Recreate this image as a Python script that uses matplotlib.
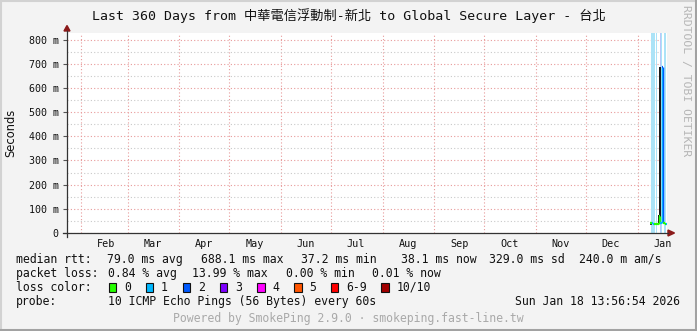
import matplotlib
matplotlib.use("Agg")
import matplotlib.pyplot as plt
import matplotlib.dates as mdates
from matplotlib.ticker import MultipleLocator, FuncFormatter
from matplotlib.patches import Rectangle, Polygon
from matplotlib.lines import Line2D
import datetime as dt

# ---------------- data ----------------
title = "Last 360 Days from 中華電信浮動制-新北 to Global Secure Layer - 台北"
end_time = dt.datetime(2026, 1, 18, 13, 56, 54)
span_days = 360
y_max_ms = 827

# full-height light smoke bands (start, duration in days)
band_start = ["2026-01-09 00:00", "2026-01-12 00:00", "2026-01-14 09:36",
              "2026-01-15 00:00", "2026-01-16 19:12"]
band_days = [2.4, 0.6, 0.6, 0.6, 1.2]
band_colors = ["#abe3f7", "#abe3f7", "#b9c6f9", "#abe3f7", "#abe3f7"]

# dense smoke blocks (start, duration days, low ms, high ms)
smoke_start = ["2026-01-08 04:48", "2026-01-13 04:48", "2026-01-13 19:12"]
smoke_days = [1.2, 0.6, 1.2]
smoke_low = [35, 38, 38]
smoke_high = [45, 75, 688]
smoke_colors = ["#3a3a3a", "#1a1a1a", "#1a1a1a"]

# median rtt per consolidated step (day of Jan 2026, ms, loss count)
med_day = [7.2, 7.8, 8.4, 9.0, 9.6, 10.2, 10.8, 11.4, 12.0, 12.6,
           13.2, 13.8, 14.4, 15.0, 15.6, 16.2, 16.8, 17.4]
med_ms = [40, 40, 42, 38, 38, 38, 38, 39, 38, 70,
          40, 40, 688, 40, 40, 38, 37, 38]
med_loss = [0, 0, 1, 1, 0, 0, 0, 0, 0, 0,
            1, 1, 2, 0, 0, 0, 1, 1]
step_days = 0.6

loss_labels = ["0", "1", "2", "3", "4", "5", "6-9", "10/10"]
loss_colors = ["#26ff00", "#00b8ff", "#0059ff", "#7e00ff", "#ff00ff",
               "#ff5500", "#ff0000", "#a10000"]

rtt_stats = ["79.0 ms avg", "688.1 ms max", "37.2 ms min", "38.1 ms now",
             "329.0 ms sd", "240.0 m am/s"]
loss_stats = ["0.84 % avg", "13.99 % max", "0.00 % min", "0.01 % now"]
probe_text = "10 ICMP Echo Pings (56 Bytes) every 60s"
stamp_text = "Sun Jan 18 13:56:54 2026"
footer_text = "Powered by SmokePing 2.9.0 · smokeping.fast-line.tw"
side_text = "RRDTOOL / TOBI OETIKER"

# ---------------- figure ----------------
W, H = 697, 331
fig = plt.figure(figsize=(W / 100, H / 100), dpi=100)
fig.patch.set_facecolor("#f3f3f3")

def fx(x):
    return x / W

def fy(y):
    return 1 - y / H

MONO = ["DejaVu Sans Mono", "Noto Sans CJK TC"]

# 3D-ish border
fig.add_artist(Line2D([fx(0.5), fx(0.5)], [0, 1], color="#d2d2d2", lw=1.5, transform=fig.transFigure))
fig.add_artist(Line2D([0, 1], [fy(0.5), fy(0.5)], color="#d2d2d2", lw=1.5, transform=fig.transFigure))
fig.add_artist(Line2D([fx(695.5), fx(695.5)], [0, 1], color="#a2a2a2", lw=2.2, transform=fig.transFigure))
fig.add_artist(Line2D([0, 1], [fy(329.5), fy(329.5)], color="#a2a2a2", lw=2.2, transform=fig.transFigure))

left, right, top, bottom = 67, 667, 33, 233
ax = fig.add_axes([fx(left), fy(bottom), (right - left) / W, (bottom - top) / H])
ax.set_facecolor("white")
start_time = end_time - dt.timedelta(days=span_days)
ax.set_xlim(mdates.date2num(start_time), mdates.date2num(end_time))
ax.set_ylim(0, y_max_ms)

for s in ax.spines.values():
    s.set_visible(False)

# grids
ax.yaxis.set_major_locator(MultipleLocator(100))
ax.yaxis.set_minor_locator(MultipleLocator(50))
ax.xaxis.set_major_locator(mdates.MonthLocator())
ax.xaxis.set_minor_locator(mdates.MonthLocator(bymonthday=16))
ax.xaxis.set_major_formatter(FuncFormatter(lambda v, p: ""))
ax.xaxis.set_minor_formatter(mdates.DateFormatter("%b"))
ax.yaxis.set_major_formatter(FuncFormatter(lambda v, p: "0" if v == 0 else f"{int(v)} m"))

ax.grid(which="minor", axis="y", color="#c9c9c9", lw=0.8, ls=(0, (1, 2)))
ax.grid(which="major", axis="both", color="#e89a9a", lw=0.8, ls=(0, (1, 2)))
ax.set_axisbelow(True)

ax.tick_params(axis="x", which="both", length=0, pad=4, labelsize=7.3, labelcolor="#111")
ax.tick_params(axis="y", which="major", length=3, width=0.8, color="#555", pad=3,
               labelsize=7.2, labelcolor="#111")
ax.tick_params(axis="y", which="minor", length=0)
for lab in ax.get_xticklabels(minor=True) + ax.get_yticklabels():
    lab.set_family("DejaVu Sans Mono")

# full-height bands
b_x = [mdates.date2num(dt.datetime.strptime(s, "%Y-%m-%d %H:%M")) for s in band_start]
ax.bar(b_x, [y_max_ms] * len(b_x), width=band_days, align="edge", color=band_colors,
       lw=0, zorder=2)

# dense smoke
s_x = [mdates.date2num(dt.datetime.strptime(s, "%Y-%m-%d %H:%M")) for s in smoke_start]
ax.bar(s_x, [h - l for h, l in zip(smoke_high, smoke_low)], bottom=smoke_low,
       width=smoke_days, align="edge", color=smoke_colors, lw=0, zorder=3)

# median line, coloured by loss
jan1 = mdates.date2num(dt.datetime(2026, 1, 1))
for i, (d, v, l) in enumerate(zip(med_day, med_ms, med_loss)):
    c = loss_colors[l]
    x0 = jan1 + d
    ax.hlines(v, x0, x0 + step_days, color=c, lw=1.6, zorder=4)
    if i + 1 < len(med_ms):
        ax.vlines(x0 + step_days, min(v, med_ms[i + 1]), max(v, med_ms[i + 1]),
                  color=c, lw=1.0, zorder=4)

# axes lines with arrows
axis_col = "#333333"
arrow_col = "#8b1a1a"
fig.add_artist(Line2D([fx(63), fx(668)], [fy(233), fy(233)], color=axis_col, lw=0.9))
fig.add_artist(Line2D([fx(67), fx(67)], [fy(237), fy(31)], color=axis_col, lw=0.9))
fig.add_artist(Polygon([[fx(668), fy(230)], [fx(668), fy(236)], [fx(674.5), fy(233)]],
                       closed=True, color=arrow_col, transform=fig.transFigure))
fig.add_artist(Polygon([[fx(64), fy(31)], [fx(70), fy(31)], [fx(67), fy(25.5)]],
                       closed=True, color=arrow_col, transform=fig.transFigure))

# title, axis title and side text
fig.text(fx(348.5), fy(20), title, ha="center", va="baseline", fontsize=9.5,
         family=MONO, color="#111")
fig.text(fx(10.5), fy(132.5), "Seconds", ha="center", va="center", rotation=90,
         fontsize=8.3, family="DejaVu Sans", color="#111")
fig.text(fx(686), fy(5), side_text, ha="center", va="top", rotation=-90,
         fontsize=8.2, family="DejaVu Sans Mono", color="#b5b5b5")

# legend block
fs = 8.3
txt = dict(fontsize=fs, family=MONO, color="#111", va="baseline")
fig.text(fx(16), fy(263), "median rtt:", **txt)
for x, s in zip([107, 201, 301, 401, 489, 579], rtt_stats):
    fig.text(fx(x), fy(263), s, **txt)
fig.text(fx(16), fy(277), "packet loss:", **txt)
for x, s in zip([107.5, 192.5, 286.5, 372], loss_stats):
    fig.text(fx(x), fy(277), s, **txt)
fig.text(fx(16), fy(291), "loss color:", **txt)
for x, lab, col in zip([108.5, 145.5, 182.5, 219.5, 257, 294, 330.5, 381], loss_labels, loss_colors):
    fig.add_artist(Rectangle((fx(x), fy(291.5)), 7.5 / W, 8.5 / H, facecolor=col,
                             edgecolor="#111", lw=0.8, transform=fig.transFigure))
    fig.text(fx(x + 15.5), fy(291), lab, **txt)
fig.text(fx(16), fy(305), "probe:", **txt)
fig.text(fx(107.5), fy(305), probe_text, **txt)
fig.text(fx(680), fy(305), stamp_text, ha="right", fontsize=fs, family=MONO,
         color="#111", va="baseline")
fig.text(fx(348.5), fy(322), footer_text, ha="center", fontsize=fs, family=MONO,
         color="#a9a9a9", va="baseline")

fig.savefig("out.png", dpi=100, facecolor=fig.get_facecolor())
